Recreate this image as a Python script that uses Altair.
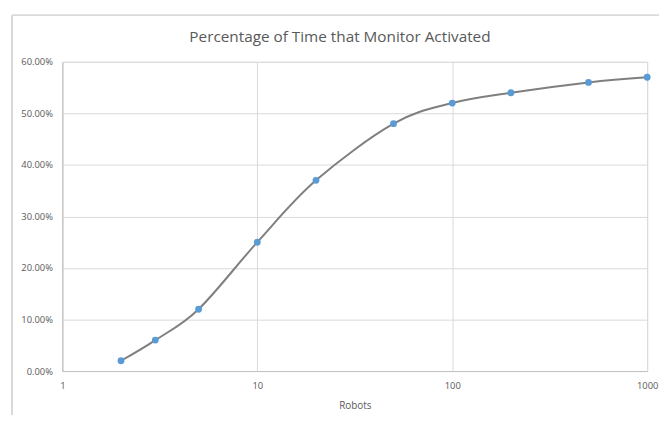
import altair as alt
import pandas as pd

robots = [2, 3, 5, 10, 20, 50, 100, 200, 500, 1000]
pct = [0.02, 0.06, 0.12, 0.25, 0.37, 0.48, 0.52, 0.54, 0.56, 0.57]
x_ticks = [1, 10, 100, 1000]
y_ticks = [0, 0.1, 0.2, 0.3, 0.4, 0.5, 0.6]
title_text = "Percentage of Time that Monitor Activated"

df = pd.DataFrame({"Robots": robots, "Pct": pct})

FONT = "Open Sans"
TXT = "#595959"

x = alt.X("Robots:Q", scale=alt.Scale(type="log", domain=[1, 1000], nice=False),
          axis=alt.Axis(values=x_ticks, format="d", title="Robots", grid=True,
                        gridColor="#d9d9d9", domainColor="#bfbfbf", ticks=False,
                        labelFontSize=9.5, labelColor=TXT, labelPadding=10, labelFont=FONT,
                        titleFont=FONT, titleFontSize=10, titleColor=TXT, titleFontWeight="normal",
                        titlePadding=10, labelFlush=False))
y = alt.Y("Pct:Q", scale=alt.Scale(domain=[0, 0.6], nice=False),
          axis=alt.Axis(values=y_ticks, format=".2%", title=None, grid=True,
                        gridColor="#d9d9d9", domainColor="#bfbfbf", ticks=False,
                        labelFontSize=9.5, labelColor=TXT, labelPadding=10, labelFont=FONT))

line = alt.Chart(df).mark_line(interpolate="cardinal", color="#7f7f7f", strokeWidth=2).encode(x=x, y=y)
pts = alt.Chart(df).mark_circle(color="#5b9bd5", size=48, opacity=1).encode(x="Robots:Q", y="Pct:Q")

border_l = alt.Chart(df).mark_rule(color="#d9d9d9", clip=False).encode(
    x=alt.value(-51), y=alt.value(-47), y2=alt.value(360))
border_t = alt.Chart(df).mark_rule(color="#d9d9d9", clip=False).encode(
    x=alt.value(-51), x2=alt.value(604), y=alt.value(-47))

title = alt.Chart(pd.DataFrame({"t": [title_text]})).mark_text(
    font=FONT, fontSize=15.5, color=TXT, align="center", baseline="middle"
).encode(text="t:N", x=alt.value(281), y=alt.value(-25))

chart = alt.layer(border_l, border_t, line, pts, title).properties(
    width=592, height=313,
    autosize=alt.AutoSizeParams(type="none"),
    padding={"left": 55, "top": 52, "right": 14, "bottom": 42},
).configure_view(stroke=None).configure(background="white")

chart.save("out.html", embed_options={"renderer": "svg", "actions": False})
